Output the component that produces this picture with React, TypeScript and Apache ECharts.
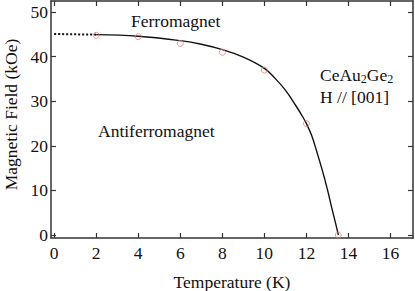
import React, { useEffect, useRef } from "react";
import * as echarts from "echarts";

const xTicks = [0, 2, 4, 6, 8, 10, 12, 14, 16];
const yTicks = [0, 10, 20, 30, 40, 50];

// measured points (red circles)
const measT = [2, 4, 6, 8, 10, 12, 13.52];
const measH = [44.8, 44.5, 43.0, 41.0, 37.0, 25.0, 0];

// dotted extrapolation
const dotT = [0, 1, 2];
const dotH = [45.1, 45.02, 44.95];

// solid guide curve
const curveT = [2, 4, 6, 7, 8, 9, 10, 10.5, 11, 11.5, 11.75, 12, 12.25, 12.5, 12.75, 13, 13.2, 13.4, 13.52];
const curveH = [44.95, 44.6, 43.6, 42.8, 41.6, 39.9, 37.4, 35.2, 32.5, 29.0, 27.1, 25.0, 22.3, 18.6, 14.6, 10.2, 6.2, 2.4, 0];

const FONT = "'Liberation Serif', serif";
const AX = "#333";

export default function App() {
  const ref = useRef<HTMLDivElement>(null);
  useEffect(() => {
    if (!ref.current) return;
    const chart = echarts.init(ref.current, null, { renderer: "svg" });
    const xMin = -0.15, xMax = 17.07, yMin = -0.67, yMax = 52.5;
    const axisCommon = {
      type: "value" as const,
      splitLine: { show: false },
      axisLine: { show: true, onZero: false, lineStyle: { color: AX, width: 1.5 } },
      axisTick: { show: true, inside: true, length: 5, lineStyle: { color: AX, width: 1.2 } },
    };
    chart.setOption({
      animation: false,
      backgroundColor: "#fff",
      textStyle: { fontFamily: FONT },
      grid: { left: 51, right: 2, top: 1, bottom: 53, containLabel: false, outerBoundsMode: "none" },
      xAxis: [
        {
          ...axisCommon,
          position: "bottom",
          min: xMin,
          max: xMax,
          axisTick: { ...axisCommon.axisTick, customValues: xTicks },
          axisLabel: { customValues: xTicks, margin: 6, color: "#111", fontFamily: FONT, fontSize: 17.5 },
          name: "Temperature (K)",
          nameLocation: "middle",
          nameGap: 35,
          nameTextStyle: { color: "#111", fontFamily: FONT, fontSize: 17.5 },
        },
        {
          ...axisCommon,
          position: "top",
          min: xMin,
          max: xMax,
          axisTick: { ...axisCommon.axisTick, customValues: xTicks },
          axisLabel: { show: false, customValues: xTicks },
        },
      ],
      yAxis: [
        {
          ...axisCommon,
          position: "left",
          min: yMin,
          max: yMax,
          axisTick: { ...axisCommon.axisTick, customValues: yTicks },
          axisLabel: { customValues: yTicks, margin: 3, color: "#111", fontFamily: FONT, fontSize: 17.5 },
          name: "Magnetic Field (kOe)",
          nameLocation: "middle",
          nameGap: 29,
          nameTextStyle: { color: "#111", fontFamily: FONT, fontSize: 17.5, padding: [0, 0, 0, 10] },
        },
        {
          ...axisCommon,
          position: "right",
          min: yMin,
          max: yMax,
          axisTick: { ...axisCommon.axisTick, customValues: yTicks },
          axisLabel: { show: false, customValues: yTicks },
        },
      ],
      series: [
        {
          type: "line",
          data: dotT.map((t, i) => [t, dotH[i]]),
          showSymbol: false,
          lineStyle: { color: "#111", width: 2, type: [2, 2] },
          z: 2,
        },
        {
          type: "line",
          data: curveT.map((t, i) => [t, curveH[i]]),
          showSymbol: false,
          smooth: 0.4,
          lineStyle: { color: "#111", width: 1.4 },
          z: 2,
        },
        {
          type: "scatter",
          data: measT.map((t, i) => [t, measH[i]]),
          symbol: "circle",
          symbolSize: 6,
          itemStyle: { color: "none", borderColor: "#f07878", borderWidth: 1 },
          z: 3,
        },
      ],
      graphic: [
        {
          type: "text",
          x: 131,
          y: 21,
          style: { text: "Ferromagnet", fontFamily: FONT, fontSize: 17.5, fill: "#111", verticalAlign: "middle" },
        },
        {
          type: "text",
          x: 98,
          y: 131,
          style: { text: "Antiferromagnet", fontFamily: FONT, fontSize: 17.5, fill: "#111", verticalAlign: "middle" },
        },
        {
          type: "text",
          x: 320,
          y: 75,
          style: {
            text: "{n|CeAu}{s|2}{n|Ge}{s|2}",
            verticalAlign: "middle",
            rich: {
              n: { fontFamily: FONT, fontSize: 17.5, fill: "#111", lineHeight: 20 },
              s: { fontFamily: FONT, fontSize: 12, fill: "#111", verticalAlign: "bottom", lineHeight: 20, padding: [6, 0, 0, 0] },
            },
          },
        },
        {
          type: "text",
          x: 320,
          y: 97,
          style: { text: "H // [001]", fontFamily: FONT, fontSize: 17.5, fill: "#111", verticalAlign: "middle" },
        },
      ],
    });
    return () => chart.dispose();
  }, []);
  return <div ref={ref} style={{ position: "fixed", left: 0, top: 0, width: 415, height: 291 }} />;
}
